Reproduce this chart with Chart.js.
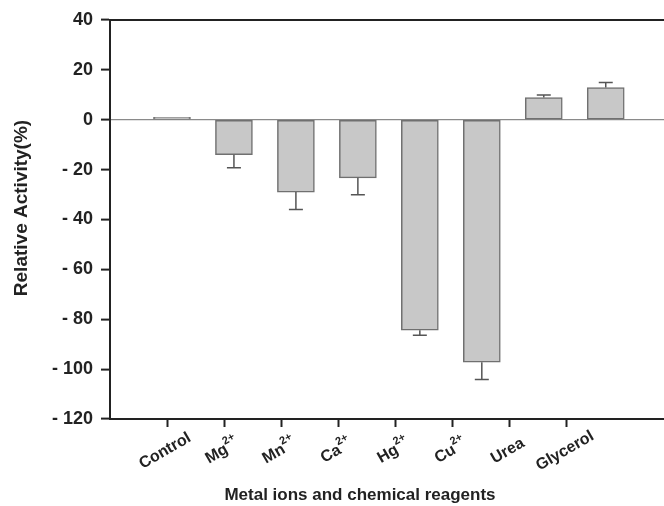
<!DOCTYPE html>
<html>
<head>
<meta charset="utf-8">
<script src="https://cdn.jsdelivr.net/npm/chart.js@4/dist/chart.umd.min.js"></script>
<style>
  html, body { margin: 0; padding: 0; background: #fff; }
  #wrap { width: 664px; height: 506px; }
</style>
</head>
<body>
<div id="wrap"><canvas id="activityChart"></canvas></div>
<script>
// Relative activity of the enzyme with metal ions and chemical reagents
const categories = ['Control', 'Mg²⁺', 'Mn²⁺', 'Ca²⁺', 'Hg²⁺', 'Cu²⁺', 'Urea', 'Glycerol'];
const activity = [1, -14, -29, -23.3, -84.4, -97.2, 8.9, 12.9];
const errors = [0, 5.2, 7, 6.8, 2, 7, 1, 2];
const yTicks = [40, 20, 0, -20, -40, -60, -80, -100, -120];

const xTitle = 'Metal ions and chemical reagents';
const yTitle = 'Relative Activity(%)';

const FONT = '"Liberation Sans", Arial, sans-serif';
const INK = '#222';

// error bars, pointing away from zero
const errorBars = {
    id: 'errorBars',
    afterDatasetsDraw(chart) {
        const ctx = chart.ctx;
        const xs = chart.scales.x, ys = chart.scales.y;
        ctx.save();
        ctx.strokeStyle = '#555';
        ctx.lineWidth = 1.5;
        activity.forEach((v, i) => {
            if (!errors[i]) return;
            const x = xs.getPixelForValue(i + 1);
            const y0 = ys.getPixelForValue(v);
            const y1 = ys.getPixelForValue(v + Math.sign(v) * errors[i]);
            ctx.beginPath();
            ctx.moveTo(x, y0);
            ctx.lineTo(x, y1);
            ctx.moveTo(x - 7, y1);
            ctx.lineTo(x + 7, y1);
            ctx.stroke();
        });
        ctx.restore();
    }
};

// top frame line, rotated category labels with superscripts, axis titles
const decorations = {
    id: 'decorations',
    afterDraw(chart) {
        const ctx = chart.ctx;
        const area = chart.chartArea;
        const sx = chart.scales.x2;
        ctx.save();

        ctx.strokeStyle = INK;
        ctx.lineWidth = 2;
        ctx.beginPath();
        ctx.moveTo(area.left - 1, area.top);
        ctx.lineTo(area.right, area.top);
        ctx.stroke();

        ctx.fillStyle = INK;
        ctx.textAlign = 'left';
        ctx.textBaseline = 'middle';
        categories.forEach((lab, i) => {
            const m = lab.match(/^(.*?)([²⁺]*)$/);
            const base = m[1];
            const sup = m[2].replace('²', '2').replace('⁺', '+');
            ctx.save();
            ctx.translate(sx.getPixelForValue(i + 1) - 2, area.bottom + 32);
            ctx.rotate(-Math.PI / 6);
            ctx.font = 'bold 16px ' + FONT;
            const wb = ctx.measureText(base).width;
            ctx.font = 'bold 11px ' + FONT;
            const ws = sup ? ctx.measureText(sup).width : 0;
            const x0 = -(wb + ws) / 2;
            ctx.font = 'bold 16px ' + FONT;
            ctx.fillText(base, x0, 0);
            if (sup) {
                ctx.font = 'bold 11px ' + FONT;
                ctx.fillText(sup, x0 + wb, -7);
            }
            ctx.restore();
        });

        ctx.textAlign = 'center';
        ctx.font = 'bold 17px ' + FONT;
        ctx.fillText(xTitle, area.left + 250, area.bottom + 76);

        ctx.save();
        ctx.translate(22, area.top + 188);
        ctx.rotate(-Math.PI / 2);
        ctx.font = 'bold 19px ' + FONT;
        ctx.fillText(yTitle, 0, 0);
        ctx.restore();

        ctx.restore();
    }
};

new Chart(document.getElementById('activityChart'), {
    type: 'bar',
    data: {
        datasets: [{
            data: activity.map((v, i) => ({ x: i + 1, y: v })),
            backgroundColor: '#c8c8c8',
            borderColor: '#707070',
            borderWidth: 1.5,
            borderSkipped: false,
            barThickness: 37
        }]
    },
    options: {
        responsive: true,
        maintainAspectRatio: false,
        animation: false,
        layout: { padding: { top: 20, right: 0, bottom: 0, left: 0 } },
        plugins: {
            legend: { display: false },
            tooltip: { enabled: false }
        },
        scales: {
            x: {
                type: 'linear',
                display: false,
                offset: false,
                grid: { offset: false },
                min: 0,
                max: 8.94
            },
            x2: {
                type: 'linear',
                position: 'bottom',
                offset: false,
                min: 0,
                max: 9.7,
                afterBuildTicks: function(scale) {
                    scale.ticks = categories.map((c, i) => ({ value: i + 1 }));
                },
                afterFit: function(scale) {
                    scale.height = 87;
                },
                grid: {
                    offset: false,
                    drawOnChartArea: false,
                    drawTicks: true,
                    tickLength: 8,
                    tickColor: INK,
                    tickWidth: 2
                },
                border: { color: INK, width: 2 },
                ticks: { display: false }
            },
            y: {
                min: -120,
                max: 40,
                afterBuildTicks: function(scale) {
                    scale.ticks = yTicks.map(v => ({ value: v }));
                },
                afterFit: function(scale) {
                    scale.width = 110;
                },
                grid: {
                    color: ctx => (ctx.tick && ctx.tick.value === 0) ? '#8a8a8a' : 'rgba(0,0,0,0)',
                    lineWidth: 1.2,
                    tickColor: INK,
                    tickWidth: 2,
                    tickLength: 9
                },
                border: { color: INK, width: 2 },
                ticks: {
                    color: INK,
                    padding: 8,
                    font: { family: FONT, size: 18, weight: 'bold' },
                    callback: function(value) {
                        return value < 0 ? '- ' + Math.abs(value) : String(value);
                    }
                }
            }
        }
    },
    plugins: [errorBars, decorations]
});
</script>
</body>
</html>
